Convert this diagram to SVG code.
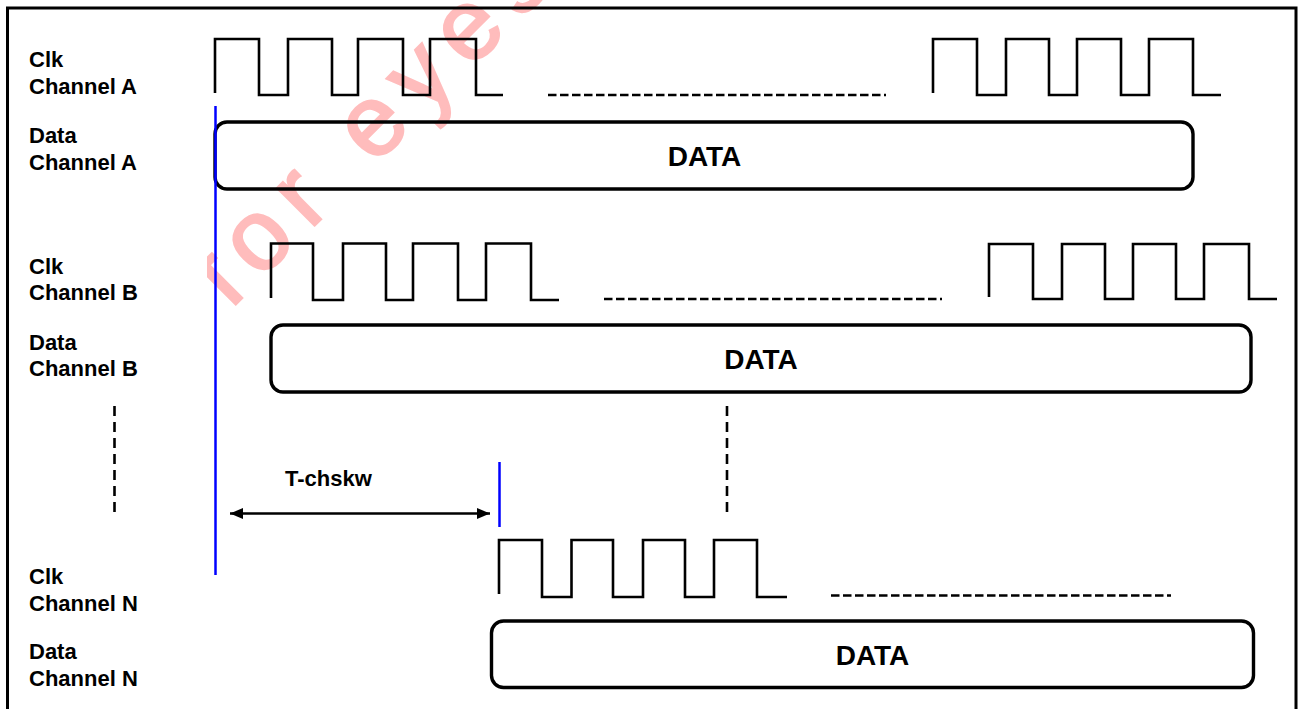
<svg xmlns="http://www.w3.org/2000/svg" width="1299" height="709" viewBox="0 0 1299 709">
<style>
.lbl{font-family:"Liberation Sans",Arial,sans-serif;font-weight:bold;font-size:22px;fill:#000}
.data{font-family:"Liberation Sans",Arial,sans-serif;font-weight:bold;font-size:28px;fill:#000;text-anchor:middle}
.clk{fill:none;stroke:#000;stroke-width:2.6;stroke-linejoin:miter}
.hdash{fill:none;stroke:#000;stroke-width:2.6;stroke-dasharray:8.5 3.5}
.vdash{fill:none;stroke:#000;stroke-width:2.6;stroke-dasharray:10 6}
.box{fill:none;stroke:#000;stroke-width:3.4}
.blue{stroke:#0000ff;stroke-width:2.5}
.wm{font-family:"Liberation Sans",Arial,sans-serif;font-size:100px;fill:#ffbcbc;stroke:#ffbcbc;stroke-width:2.5;letter-spacing:15px}
</style>
<defs>
<clipPath id="wmclip"><rect x="207" y="0" width="1092" height="709"/></clipPath>
<marker id="ah" viewBox="0 0 13 11" refX="13" refY="5.5" markerWidth="13" markerHeight="11" markerUnits="userSpaceOnUse" orient="auto-start-reverse">
<path d="M0,0 L13,5.5 L0,11 Z" fill="#000"/>
</marker>
</defs>
<rect width="1299" height="709" fill="#fff"/>
<g id="watermark" clip-path="url(#wmclip)">
<text class="wm" transform="translate(229.6,310.5) rotate(-45)">for eyes</text>
</g>
<rect id="frame" x="7.5" y="8" width="1288.5" height="720" fill="none" stroke="#000" stroke-width="3"/>
<g id="labels">
<text class="lbl" x="29" y="67">Clk</text>
<text class="lbl" x="29" y="94">Channel A</text>
<text class="lbl" x="29" y="143">Data</text>
<text class="lbl" x="29" y="170">Channel A</text>
<text class="lbl" x="29" y="274">Clk</text>
<text class="lbl" x="29" y="300">Channel B</text>
<text class="lbl" x="29" y="350">Data</text>
<text class="lbl" x="29" y="376">Channel B</text>
<text class="lbl" x="29" y="584">Clk</text>
<text class="lbl" x="29" y="611">Channel N</text>
<text class="lbl" x="29" y="659">Data</text>
<text class="lbl" x="29" y="686">Channel N</text>
</g>
<g id="clk-a">
<path class="clk" d="M215,93 V39 H259 V95 H288 V39 H332 V95 H358 V39 H403 V95 H430 V39 H476 V95 H503"/>
<path class="hdash" d="M548,95 H886"/>
<path class="clk" d="M933,93 V39 H977 V95 H1006 V39 H1049 V95 H1077 V39 H1121 V95 H1149 V39 H1193 V95 H1221"/>
</g>
<g id="data-a">
<rect class="box" x="215" y="122" width="978" height="67" rx="12"/>
<text class="data" x="704.5" y="166">DATA</text>
</g>
<g id="clk-b">
<path class="clk" d="M271,298 V243.5 H313 V300 H343 V243.5 H386 V300 H413 V243.5 H458 V300 H486 V243.5 H531 V300 H559"/>
<path class="hdash" d="M604,299 H942"/>
<path class="clk" d="M989,297 V244 H1033 V299 H1062 V244 H1105 V299 H1133 V244 H1176 V299 H1204 V244 H1249 V299 H1277"/>
</g>
<g id="data-b">
<rect class="box" x="271" y="325" width="980" height="67" rx="12"/>
<text class="data" x="761" y="369">DATA</text>
</g>
<g id="clk-n">
<path class="clk" d="M499,594 V540 H542 V597 H571.5 V540 H613 V597 H643 V540 H685 V597 H714 V540 H757 V597 H787"/>
<path class="hdash" d="M831,595.5 H1171"/>
</g>
<g id="data-n">
<rect class="box" x="491.5" y="621" width="762" height="66.5" rx="12"/>
<text class="data" x="872.5" y="665">DATA</text>
</g>
<g id="connectors">
<line class="blue" x1="215.5" y1="106" x2="215.5" y2="575"/>
<line class="blue" x1="499.5" y1="462" x2="499.5" y2="527"/>
<path class="vdash" d="M114.5,406 V518"/>
<path class="vdash" d="M727,406 V518"/>
<line x1="230" y1="513.5" x2="490" y2="513.5" stroke="#000" stroke-width="2.6" marker-start="url(#ah)" marker-end="url(#ah)"/>
<text class="lbl" x="285" y="486">T-chskw</text>
</g>
</svg>
